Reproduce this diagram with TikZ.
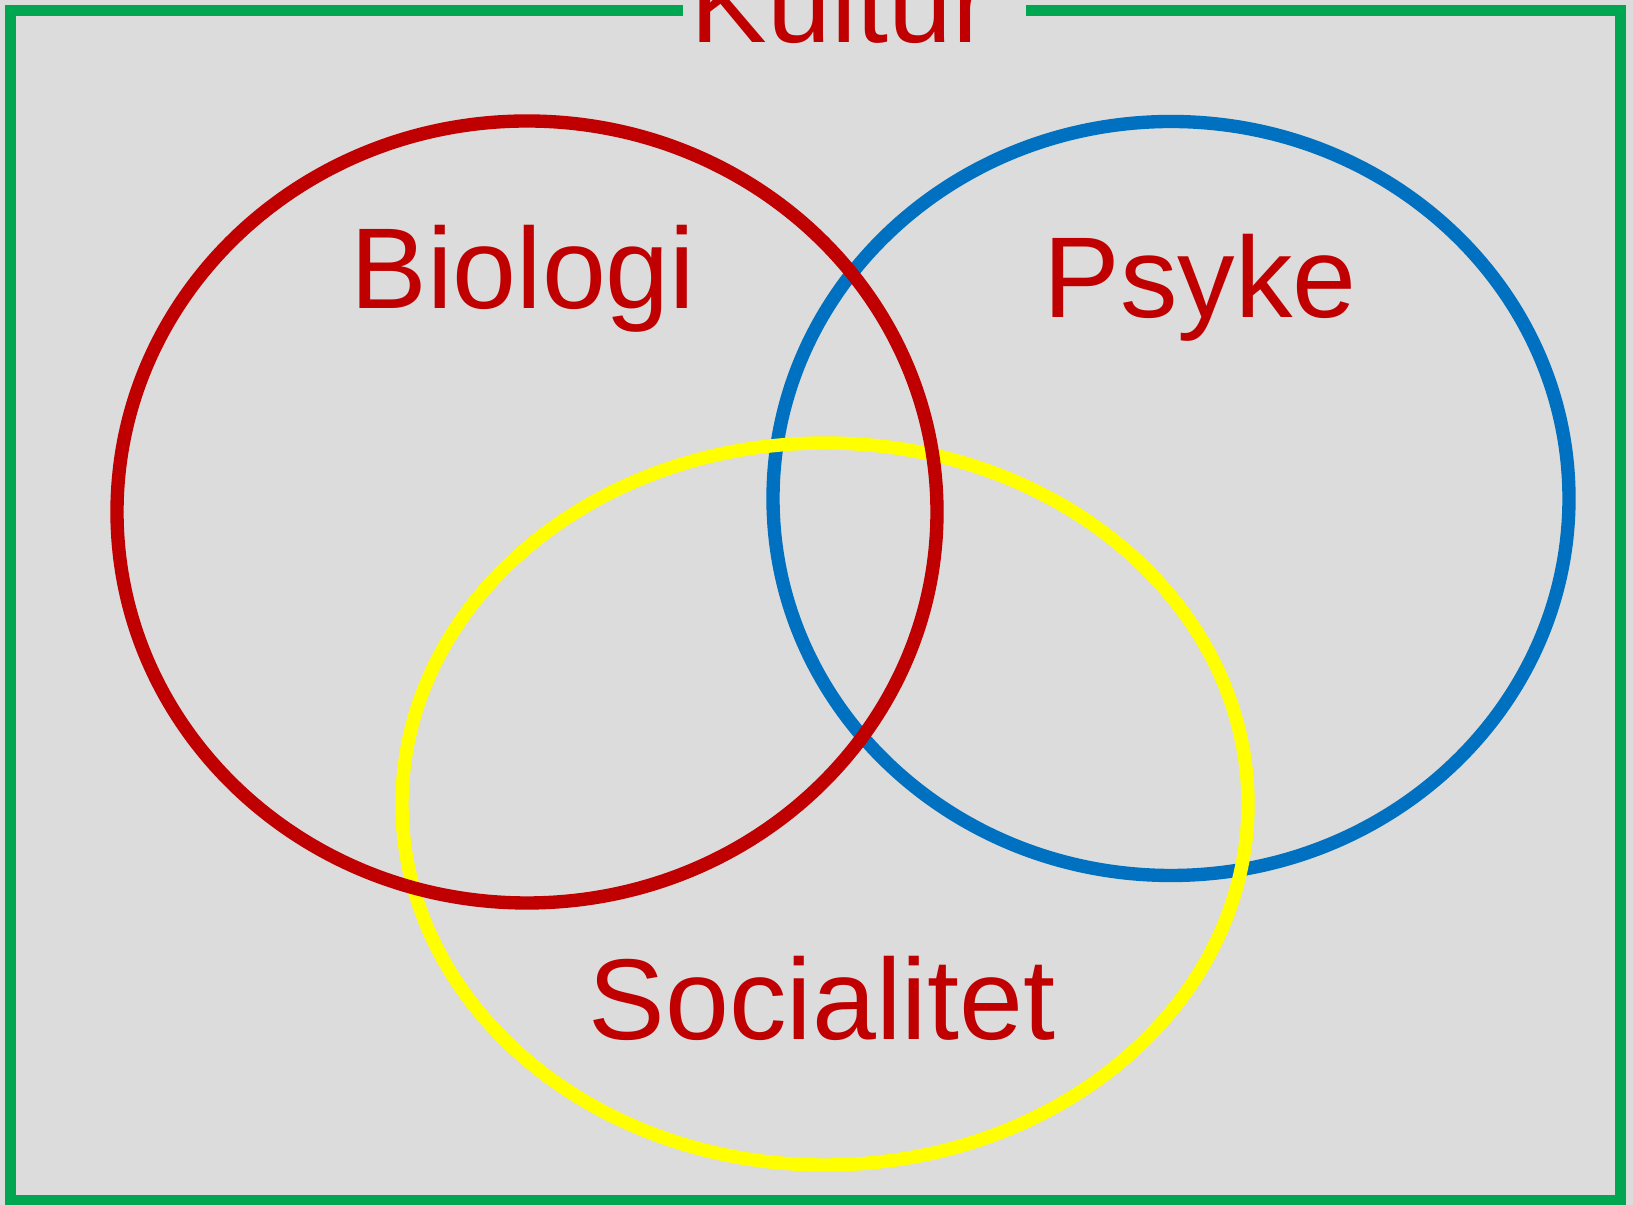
\documentclass[tikz,border=0pt]{standalone}
\usepackage{fontspec}
\setmainfont{Liberation Sans}
\definecolor{KulturGreen}{HTML}{00A650}
\definecolor{BioRed}{HTML}{C00000}
\definecolor{PsyBlue}{HTML}{0070C0}
\definecolor{SocYellow}{HTML}{FFFF00}
\definecolor{BgGray}{HTML}{DCDCDC}
\tikzset{
  label/.style={text=BioRed, inner sep=0pt, anchor=base, font=\fontsize{32.7}{39}\selectfont},
  ring/.style={line width=3.8pt}
}
\begin{document}
\begin{tikzpicture}
        \useasboundingbox (0,0) rectangle (16.33,-12.05);
        \fill[BgGray] (0,0) rectangle (16.33,-12.05);

        \coordinate (gapL) at (6.83,-0.105);
        \coordinate (gapR) at (10.26,-0.105);
        \draw[KulturGreen, line width=3.3pt] (gapL) -- (0.105,-0.105) -- (0.105,-12.005) -- (16.205,-12.005) -- (16.205,-0.105) -- (gapR);

        \draw[ring, PsyBlue] (11.71,-4.985) ellipse [x radius=3.98, y radius=3.77];
        \draw[ring, SocYellow] (8.25,-8.04) ellipse [x radius=4.23, y radius=3.61];
        \draw[ring, BioRed] (5.27,-5.12) ellipse [x radius=4.10, y radius=3.91];

        \node[label] (kultur) at (8.41,-0.43) {Kultur};
        \node[label] (biologi) at (5.23,-3.09) {Biologi};
        \node[label] (psyke) at (12.00,-3.18) {Psyke};
        \node[label] (socialitet) at (8.22,-10.40) {Socialitet};
\end{tikzpicture}
\end{document}
